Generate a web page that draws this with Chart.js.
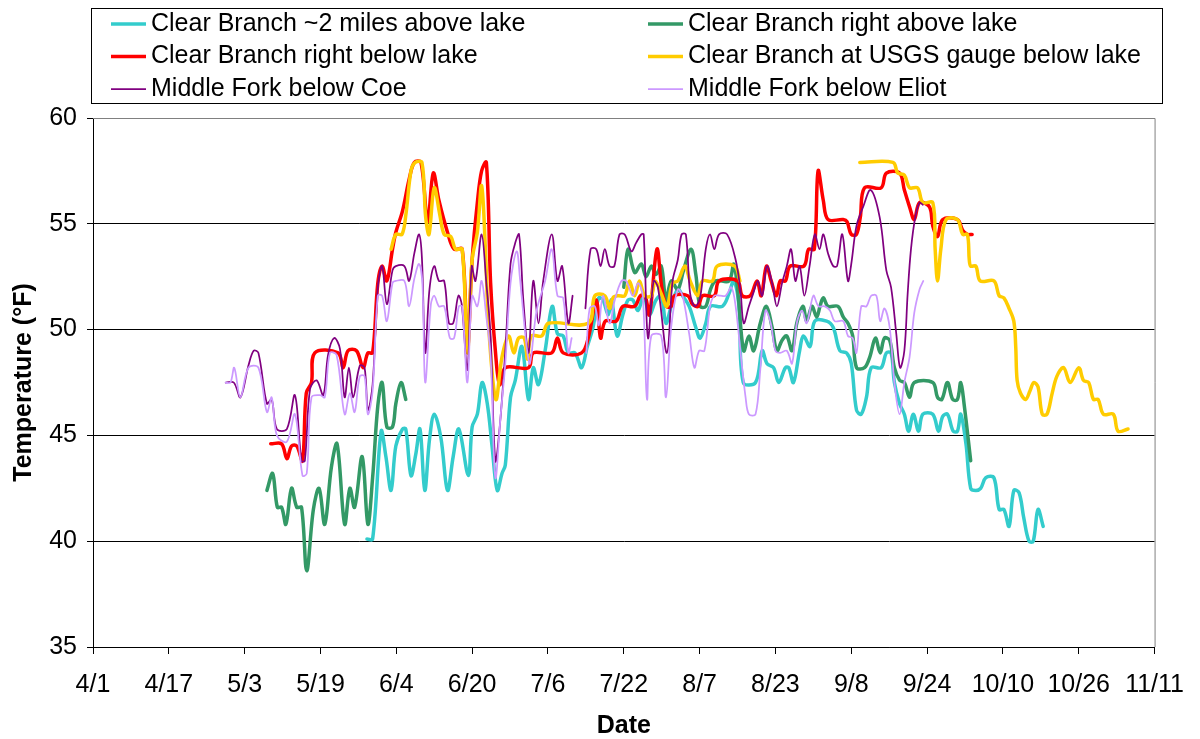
<!DOCTYPE html>
<html>
<head>
<meta charset="utf-8">
<title>Clear Branch and Middle Fork water temperatures</title>
<script src="https://cdn.jsdelivr.net/npm/chart.js@4.4.0/dist/chart.umd.min.js"></script>
<style>
  html, body { margin: 0; padding: 0; background: #fff; }
  canvas { display: block; }
</style>
</head>
<body>
<canvas id="temps" width="1200" height="739"></canvas>
<script>
// x values are days counted from 4/1, y values are degrees F
var tickLabels = ['4/1', '4/17', '5/3', '5/19', '6/4', '6/20', '7/6', '7/22',
                  '8/7', '8/23', '9/8', '9/24', '10/10', '10/26', '11/11'];
var tickStep = 16;

var seriesNames = [
    'Clear Branch ~2 miles above lake',
    'Clear Branch right above lake',
    'Clear Branch right below lake',
    'Clear Branch at USGS gauge below lake',
    'Middle Fork below Coe',
    'Middle Fork below Eliot'
];

// [day, temp]; a null temp breaks the line where the logger had no record
var cbAbove2mi = [
    [57.8,40.1],[59,40.1],[60.8,45.2],[61.8,44.0],[62.9,42.4],[63.9,44.5],[65.3,45.3],[66,45.3],[67.1,43.1],
    [68.1,44.1],[69,45.3],[70,42.4],[71,44.8],[72,46.0],[73.4,44.9],[74.8,42.4],[76,44.0],[77.2,45.3],[79.2,43.1],
    [80,45.4],[81.1,46.0],[82.1,47.5],[83.2,46.5],[84.2,44.5],[85.3,42.4],[86.3,43.2],[87,43.6],[88.1,46.8],
    [89.1,47.6],[90.5,49.2],[91.9,46.7],[92.9,48.2],[94,47.4],[95.4,49.0],[96.9,51.1],[98,49.8],[99.2,49.7],
    [100.3,48.9],[101.7,48.9],[103.1,48.2],[104.3,49.2],[105.5,50.1],[106.7,51.5],[107.6,51.4],[108.7,50.7],
    [109.4,51.4],[110.6,49.7],[111.8,50.7],[112.9,51.4],[113.9,51.4],[115,50.9],[116.2,51.6],[117.4,50.7],
    [118.8,51.4],[119.9,51.6],[120.9,50.3],[122,51.1],[123.4,51.9],[124.4,51.6],[125.8,51.1],[127.2,50.1],
    [128.1,49.6],[129.3,50.3],[130.3,51.1],[132.8,51.1],[134.2,51.7],[135.2,52.3],[136.3,51.1],[137.2,47.5],
    [139.8,47.5],[141.2,49.0],[142.2,48.4],[143.6,48.2],[144.7,47.5],[146.1,48.2],[146.8,48.2],[147.8,47.5],
    [149.1,49.0],[149.9,49.7],[151.3,49.2],[152.3,50.4],[154.8,50.4],[156.2,50.1],[157.6,49.0],[159,48.9],
    [160,48.4],[161.1,46.2],[162.1,46.0],[163.2,46.8],[164.2,48.2],[166.3,48.2],[167.4,48.9],[168.4,48.9],
    [169.1,47.5],[170.2,46.5],[171.2,46.0],[172.1,45.2],[173.1,46.0],[174.2,45.2],[175.1,46.0],[177.2,46.0],
    [178.4,45.2],[179.3,45.9],[180.3,46.0],[181.5,45.2],[182.4,45.2],[183.1,46.0],[184.2,44.6],[185.2,42.5],
    [186.3,42.4],[187.3,42.5],[188.4,43.0],[190.1,43.0],[191.2,41.5],[192.2,41.5],[193.3,40.7],[194.3,42.4],
    [195.4,42.3],[196.4,41.1],[197.5,40.0],[198.4,40.0],[199.4,41.5],[200.5,40.7]
];

var cbAboveLake = [
    [36.7,42.4],[37.9,43.2],[38.9,41.6],[39.8,41.6],[40.7,40.8],[41.9,42.5],[43,41.6],[44,41.6],[45.1,38.6],
    [46.5,41.5],[47.7,42.5],[48.9,40.8],[50.3,43.5],[51.5,44.6],[53.1,40.8],[54.2,42.5],[55.2,41.6],[56.8,44.0],
    [58,40.8],[59,43.0],[60.1,46.4],[61,47.5],[62,45.4],[63.2,45.4],[63.9,46.5],[65,47.5],[66,46.7],
    [90,null],
    [112,52.0],[112.9,53.8],[114.3,52.7],[115.7,53.1],[116.7,52.5],[117.8,53.0],[118.8,52.6],[119.9,53.0],
    [120.9,51.4],[122,52.3],[123.4,51.9],[124.6,52.8],[126.2,53.8],[127.2,52.6],[128.1,51.1],[129.3,51.1],
    [130.3,51.9],[131.4,52.3],[134.2,52.3],[135.2,53.1],[136.1,51.7],[137.3,49.0],[138.4,49.7],[139.4,49.0],
    [140.8,50.3],[142.1,51.1],[143.3,50.1],[144.3,49.0],[145.4,49.5],[146.4,49.7],[147.5,49.0],[148.5,50.3],
    [149.8,51.1],[150.6,50.4],[151.7,51.1],[152.7,50.6],[153.4,51.1],[154.1,51.5],[155.1,51.1],[157.2,51.1],
    [158.3,50.6],[159.3,50.3],[160.3,49.7],[161.1,48.2],[162.8,48.2],[163.9,48.7],[165.1,49.6],[166.1,48.9],
    [167,49.6],[168.1,49.5],[169.1,48.2],[170.2,47.6],[171.2,47.5],[172.3,46.8],[173.3,47.5],[177.2,47.5],
    [178.2,46.8],[179.1,46.7],[180.3,47.5],[181.4,46.7],[182.4,46.7],[183.1,47.5],[183.8,46.5],[185.2,43.8]
];

var cbBelowLake = [
    [37.5,44.6],[39.8,44.6],[40.9,43.9],[41.9,44.5],[43,44.5],[44.2,43.8],[45,47.0],[46.1,47.5],[46.8,48.9],
    [51.7,48.9],[52.8,48.2],[53.8,49.0],[55.6,49.0],[57,48.2],[58,48.9],[59,48.9],[60.1,52.2],[61,53.0],
    [62,52.3],[63.2,53.8],[63.9,54.6],[65.3,55.6],[66.7,57.1],[67.8,57.9],[69.2,57.9],[70.6,55.1],[71.8,57.4],
    [73,56.1],[74.8,54.6],[76.2,53.8],[77.9,53.8],[79,49.1],[80,53.3],[81.1,56.0],[82,57.5],[83,57.9],
    [83.9,52.2],[84.9,49.0],[85.8,47.4],[87,48.2],[91.9,48.2],[92.9,48.9],[96.8,48.9],[98,49.6],[99.2,48.9],
    [103.1,48.9],[104.6,49.7],[106.2,51.4],[107.1,49.6],[108.1,50.4],[110.4,50.4],[111.8,51.1],[114.3,51.1],
    [115.5,51.6],[116.5,51.6],[117.4,50.7],[119,53.8],[120,52.0],[121,51.1],[122,51.1],[122.7,51.6],
    [125.5,51.6],[126.5,51.2],[127.7,51.1],[128.6,51.6],[131.1,51.6],[132.1,52.3],[136,52.3],[137,51.6],
    [138.7,51.6],[140.1,52.3],[141,51.6],[142.1,53.0],[143.1,52.3],[144.2,51.6],[145,52.3],[146.1,52.3],
    [147.1,53.0],[150,53.0],[151,53.8],[152.2,53.8],[153,57.5],[154.1,56.1],[155.1,55.2],[158.3,55.2],
    [159.1,55.1],[160,54.5],[161.1,54.5],[161.9,55.3],[162.8,56.7],[166.3,56.7],[167.4,57.4],[170.2,57.4],
    [171.2,56.6],[172.3,55.8],[173.3,55.2],[174.4,56.0],[176.5,55.8],[177.2,54.9],[178.2,54.4],[179.3,55.2],
    [182.4,55.2],[183.5,54.7],[184.5,54.5],[185.5,54.5]
];

var cbUsgsGauge = [
    [62.9,53.8],[63.9,54.5],[65.2,54.5],[66,55.4],[67.1,57.5],[68,57.9],[69.4,57.9],[70.2,55.3],[70.9,54.5],
    [72,56.7],[73.2,55.4],[74.1,54.5],[75.5,54.4],[76.5,53.8],[77.9,53.8],[79,48.9],[80,53.3],[81.1,54.6],
    [82,56.8],[82.8,53.8],[83.5,50.1],[85,46.7],[86.3,48.7],[87.7,49.7],[88.8,48.9],[89.8,49.6],[91,49.6],
    [91.7,48.6],[92.5,49.7],[94.7,49.7],[96.1,50.3],[104.5,50.3],[105.9,51.6],[108,51.6],[109,51.0],
    [109.7,51.5],[110.8,51.6],[112.2,51.6],[113.2,52.3],[114.3,51.6],[115.3,52.3],[116.4,51.6],[117.8,51.6],
    [118.6,52.3],[119.9,51.7],[121.1,51.1],[122.3,52.2],[123.4,52.3],[124.9,53.0],[126,52.3],[127.6,51.6],
    [128.6,52.3],[130.7,52.3],[131.7,53.0],[135.4,53.0],[136.5,52.3],
    [150,null],
    [161.8,57.9],[168.8,57.9],[169.8,57.4],[171.2,57.3],[172.3,56.7],[174,56.7],[175.1,56.0],[177.2,56.0],
    [177.7,53.8],[178.2,52.3],[178.9,53.8],[180,55.2],[182.4,55.2],[183.5,54.5],[184.5,54.5],[184.9,53.3],
    [185.2,53.0],[186.3,53.0],[187.2,52.3],[190.1,52.3],[191.2,51.6],[192.2,51.5],[193.3,51.0],[194.3,50.4],
    [194.7,49.2],[195,47.6],[195.7,47.0],[196.8,46.7],[197.7,47.1],[198.5,47.5],[199.4,47.3],[200.3,46.0],
    [201.3,46.0],[202.4,47.0],[203.4,47.8],[204.8,48.2],[206.2,47.5],[208,48.2],[209,47.6],[210.1,47.5],
    [211.1,46.7],[212.1,46.7],[213.2,46.0],[215.3,46.0],[216.3,45.2],[218.4,45.3]
];

var mfBelowCoe = [
    [28,47.5],[29.7,47.5],[31.1,46.8],[32.8,48.3],[33.9,49.0],[34.9,48.9],[36.7,46.5],[37.7,46.7],[38.8,45.3],
    [40.9,45.3],[42.6,46.9],[44,43.8],[44.7,43.8],[45.8,47.2],[47.2,47.6],[48.6,46.9],[49.6,48.8],[50.9,49.6],
    [52.1,49.1],[53.1,46.8],[54,48.2],[54.9,46.8],[56.3,48.3],[57.3,48.2],[58,46.2],[59,47.4],[60.1,52.0],
    [61,53.0],[62,51.2],[63.2,52.8],[63.9,53.0],[65.7,53.0],[66.7,52.3],[67.8,53.6],[68.8,54.5],[69.4,53.4],
    [70.1,48.9],[71,51.9],[72,53.0],[73,52.3],[74.1,52.3],[75.1,50.3],[76,50.3],[77.1,51.6],[77.8,51.2],
    [79,48.1],[79.9,53.0],[80.7,52.3],[82,54.5],[83,52.2],[83.9,49.7],[84.9,43.8],[85.9,45.6],[87,49.0],
    [88.1,53.1],[89.1,54.1],[89.9,54.5],[90.8,51.4],[91.9,48.9],[92.9,52.3],[94,50.3],[95,52.3],[96.8,54.5],
    [98,52.3],[99,53.0],[100.3,50.3],[101.2,51.6],
    [102.5,null],
    [103.9,51.0],[105,53.8],[106.2,53.8],[107.1,53.0],[108,53.8],[109,53.0],[110,53.0],[111.1,54.5],
    [112.2,54.5],[113.6,53.7],[114.6,54.1],[115.7,54.5],[116.2,54.5],[117.1,49.6],[118.3,52.3],[119.2,52.0],
    [121.1,48.9],[122.3,52.3],[123.4,53.3],[124.2,54.5],[125.1,54.5],[126,51.7],[127,51.1],[128.1,51.5],
    [129.3,53.8],[130.2,54.5],[131.1,53.8],[132.1,54.5],[133.8,54.5],[135.6,53.3],[136.6,51.9],[137.3,50.3],
    [138.4,51.1],[139.3,51.7],[140.3,52.3],[141.2,51.6],[142.2,53.0],[143.3,52.2],[144.3,51.1],[145.4,52.2],
    [146.4,53.0],[147.3,53.8],[148.2,52.3],[149.1,53.0],[150.1,51.6],[151.2,53.0],[152.3,54.5],[153.3,53.8],
    [154.1,54.5],[155.1,53.6],[156.2,53.0],[157,53.0],[158.1,54.5],[159.3,52.3],[160,53.1],[161.1,54.9],
    [162.5,55.8],[164.1,56.6],[166,55.3],[167.4,52.8],[168.4,52.0],[169.5,49.8],[170.3,48.2],[171.2,49.0],
    [171.9,51.7],[172.6,53.8],[173.5,55.3],[174.4,56.0],[175.1,55.9]
];

var mfBelowEliot = [
    [28,47.5],[29,47.5],[29.8,48.2],[31.1,46.8],[32.8,48.2],[34.9,48.2],[36.7,46.1],[37.7,46.8],[38.8,45.0],
    [40.9,44.7],[42.6,46.0],[44.2,43.1],[45.1,43.2],[46.1,46.8],[47.9,46.9],[48.9,46.8],[50,48.9],[51.4,48.8],
    [53.1,46.0],[54.2,47.0],[55.2,46.1],[56.3,47.8],[57.3,47.8],[58,46.0],[59,47.1],[60.1,51.6],[61,51.6],
    [62,50.4],[63.2,52.2],[63.9,52.3],[65.7,52.3],[66.7,51.1],[67.8,52.4],[68.8,53.1],[69.5,52.2],[70.1,47.5],
    [71.3,51.2],[72,51.6],[73,51.1],[74.1,51.1],[75.3,49.6],[76.2,49.6],[77.2,51.1],[77.9,51.1],[79,47.5],
    [80,51.6],[81.1,51.1],[82,52.3],[83,50.6],[83.9,48.7],[84.9,43.0],[86,45.9],[87,48.4],[88.1,52.2],
    [89.4,53.7],[90.1,52.4],[91.5,49.2],[92.2,48.4],[93.6,50.9],[95.4,52.3],[96.8,53.8],[98,51.6],[99.2,51.5],
    [100.3,48.9],[101,49.6],
    [102.5,null],
    [104.1,48.9],[104.8,51.0],[105.9,51.1],[106.7,50.2],[107.6,51.6],[109,50.3],[110.1,51.4],[111.5,52.3],
    [112.5,52.3],[113.9,51.6],[115,52.2],[116,51.6],[116.9,46.7],[117.8,49.7],[119.9,49.7],[120.9,46.8],
    [122,50.1],[123.4,51.9],[124.4,51.6],[125.8,49.8],[126.9,48.2],[127.9,49.0],[129,49.0],[130.2,51.1],
    [131.1,51.6],[132.3,51.6],[133.5,51.6],[134.7,52.0],[135.6,51.1],[136.6,49.0],[137.7,46.8],[138.4,46.0],
    [139.8,46.0],[140.8,48.1],[141.9,50.9],[143,50.3],[144,49.0],[145,48.9],[146.4,49.0],[147.5,48.4],
    [148.5,50.3],[149.6,50.9],[150.6,50.3],[152,51.6],[153.1,51.1],[154.4,51.1],[155.5,50.9],[156.5,50.4],
    [158.3,50.4],[159.3,49.7],[160.3,49.6],[161.1,48.9],[162.1,51.1],[163.2,51.1],[164.2,51.6],[165.3,51.6],
    [166.1,50.4],[167,51.0],[168.1,50.1],[169.1,47.5],[170.2,46.0],[171.2,47.5],[172.3,48.7],[173.3,50.8],
    [174.4,51.9],[175.2,52.3]
];

var seriesData = [cbAbove2mi, cbAboveLake, cbBelowLake, cbUsgsGauge, mfBelowCoe, mfBelowEliot];

// Excel-style palette; the two Middle Fork loggers are drawn thinner
var lineStyles = [
    { color: '#33CCCC', width: 3.5 },
    { color: '#339966', width: 3.5 },
    { color: '#FF0000', width: 3.5 },
    { color: '#FFCC00', width: 3.5 },
    { color: '#800080', width: 1.75 },
    { color: '#CC99FF', width: 1.75 }
];

var fontFamily = "'Liberation Sans', Arial, Helvetica, sans-serif";
Chart.defaults.font.family = fontFamily;
Chart.defaults.font.size = 25;
Chart.defaults.color = '#000';

var datasets = seriesData.map(function (pairs, i) {
    return {
        label: seriesNames[i],
        data: pairs.map(function (p) { return { x: p[0], y: p[1] }; }),
        borderColor: lineStyles[i].color,
        backgroundColor: lineStyles[i].color,
        borderWidth: lineStyles[i].width,
        fill: false,
        spanGaps: false,
        // later series sit on top, as in the spreadsheet
        order: seriesData.length - 1 - i
    };
});

// gray frame on the top and right of the plot area
var plotFrame = {
    id: 'plotFrame',
    beforeDatasetsDraw: function (chart) {
        var a = chart.chartArea, c = chart.ctx;
        c.save();
        c.strokeStyle = '#808080';
        c.lineWidth = 1;
        c.beginPath();
        c.moveTo(a.left, a.top + 0.5);
        c.lineTo(a.right + 0.5, a.top + 0.5);
        c.lineTo(a.right + 0.5, a.bottom);
        c.stroke();
        c.restore();
    }
};

// boxed legend, two columns by three rows
var twoColumnLegend = {
    id: 'twoColumnLegend',
    afterDraw: function (chart) {
        var c = chart.ctx;
        c.save();
        c.strokeStyle = '#000';
        c.lineWidth = 1;
        c.strokeRect(91.5, 8.5, 1071, 95);
        c.font = '25px ' + fontFamily;
        c.textBaseline = 'middle';
        c.fillStyle = '#000';
        chart.data.datasets.forEach(function (ds, i) {
            var x = (i % 2) ? 648 : 111;
            var y = 24 + Math.floor(i / 2) * 32.5;
            c.strokeStyle = ds.borderColor;
            c.lineWidth = ds.borderWidth;
            c.beginPath();
            c.moveTo(x, y);
            c.lineTo(x + 35, y);
            c.stroke();
            c.fillText(ds.label, x + 40, y);
        });
        c.restore();
    }
};

var ctx = document.getElementById('temps').getContext('2d');
var chart = new Chart(ctx, {
    type: 'line',
    data: { datasets: datasets },
    options: {
        responsive: false,
        animation: false,
        devicePixelRatio: 1,
        layout: { padding: { top: 118, right: 38, left: 0, bottom: 0 } },
        plugins: {
            legend: { display: false },
            tooltip: { enabled: false }
        },
        elements: {
            point: { radius: 0, hoverRadius: 0 },
            line: { tension: 0.35, borderCapStyle: 'round', borderJoinStyle: 'round' }
        },
        scales: {
            x: {
                type: 'linear',
                min: 0,
                max: tickStep * (tickLabels.length - 1),
                ticks: {
                    stepSize: tickStep,
                    autoSkip: false,
                    maxRotation: 0,
                    padding: 16,
                    callback: function (value, index) { return tickLabels[index]; }
                },
                grid: { drawOnChartArea: false, drawTicks: true, tickLength: 7, color: '#000' },
                border: { color: '#000', width: 1 },
                title: {
                    display: true,
                    text: 'Date',
                    font: { weight: 'bold', size: 25, lineHeight: 1 },
                    padding: { top: 0, bottom: 0 }
                },
                afterFit: function (scale) { scale.height = 92; }
            },
            y: {
                min: 35,
                max: 60,
                ticks: { stepSize: 5, padding: 10 },
                grid: {
                    color: function (c) { return c.tick && c.tick.value === 60 ? '#808080' : '#000'; },
                    tickColor: '#000',
                    tickLength: 6
                },
                border: { color: '#000', width: 1 },
                title: {
                    display: true,
                    text: 'Temperature (°F)',
                    font: { weight: 'bold', size: 25, lineHeight: 1 },
                    padding: { top: 12, bottom: 0 }
                },
                afterFit: function (scale) { scale.width = 93; }
            }
        }
    },
    plugins: [plotFrame, twoColumnLegend]
});
</script>
</body>
</html>
